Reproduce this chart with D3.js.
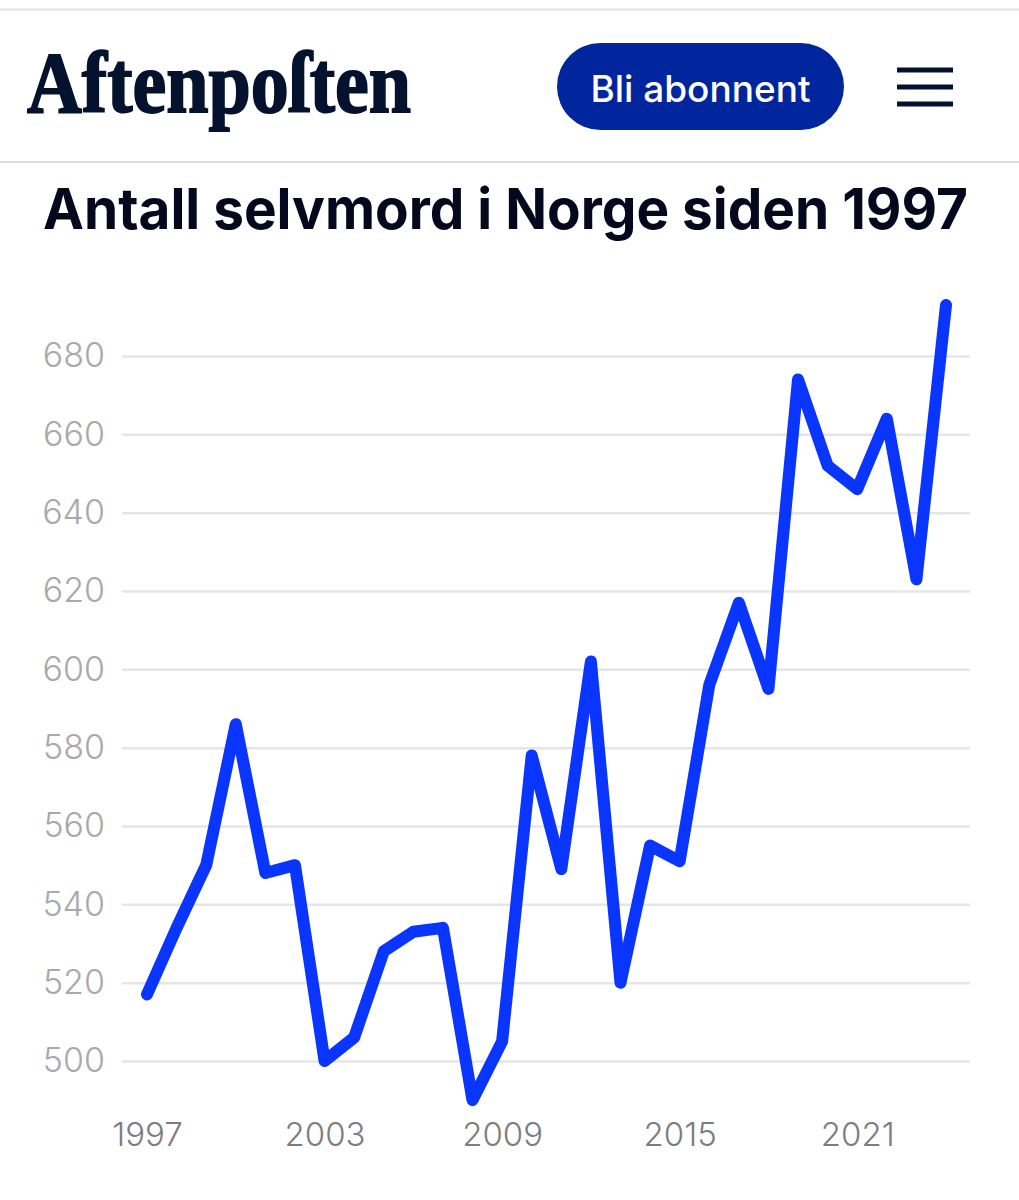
<!DOCTYPE html>
<html>
<head>
<meta charset="utf-8">
<style>
html,body{margin:0;padding:0;background:#fff;}
svg{display:block;}
.grid line{stroke:#e6e6e8;stroke-width:2.5;}
.grid path,.xaxis path,.xaxis line{display:none;}
.grid text{font:300 34px Inter,sans-serif;fill:#a9a9ad;}
.xaxis text{font:300 33px Inter,sans-serif;fill:#7d7d80;}
</style>
<script src="https://cdnjs.cloudflare.com/ajax/libs/d3/7.8.5/d3.min.js"></script>
</head>
<body>
<div id="chart"></div>
<script>
var title = "Antall selvmord i Norge siden 1997";
var years = [1997,1998,1999,2000,2001,2002,2003,2004,2005,2006,2007,2008,2009,2010,2011,2012,2013,2014,2015,2016,2017,2018,2019,2020,2021,2022,2023,2024];
var suicides = [517,534,550,586,548,550,500,506,528,533,534,490,505,578,549,602,520,555,551,596,617,595,674,652,646,664,623,693];
var yTicks = [500,520,540,560,580,600,620,640,660,680];
var xTicks = [1997,2003,2009,2015,2021];

var width = 1019, height = 1200;

var svg = d3.select("#chart").append("svg")
	.attr("width",width)
	.attr("height",height);

// page header
svg.append("line").attr("x1",0).attr("x2",width).attr("y1",9.5).attr("y2",9.5)
	.attr("stroke","#e2e2e2").attr("stroke-width",2);
svg.append("line").attr("x1",0).attr("x2",width).attr("y1",162).attr("y2",162)
	.attr("stroke","#dcdcdc").attr("stroke-width",2);

// no blackletter font here, a heavy stretched serif has to do
svg.append("text")
	.attr("transform","translate(27,112) scale(1,1.25)")
	.attr("textLength",384)
	.attr("lengthAdjust","spacingAndGlyphs")
	.style("font","700 70px 'Liberation Serif',serif")
	.style("fill","#04122e")
	.style("stroke","#04122e")
	.style("stroke-width",1.5)
	.text("Aftenpoſten");

svg.append("rect")
	.attr("x",557).attr("y",43).attr("width",287).attr("height",87)
	.attr("rx",43.5)
	.attr("fill","#00259d");
svg.append("text")
	.attr("x",700.5).attr("y",102)
	.attr("text-anchor","middle")
	.style("font","500 37px Inter,sans-serif")
	.style("fill","#fff")
	.text("Bli abonnent");

svg.selectAll(".burger").data([70,87,104]).enter().append("rect")
	.attr("class","burger")
	.attr("x",897).attr("width",56).attr("height",5)
	.attr("y",function(d){ return d-2.5; })
	.attr("fill","#04122e");

svg.append("text")
	.attr("x",43).attr("y",229)
	.attr("textLength",925)
	.attr("lengthAdjust","spacingAndGlyphs")
	.style("font","700 56px Inter,sans-serif")
	.style("fill","#04081c")
	.text(title);

// chart
var x = d3.scaleLinear().domain([1997,2024]).range([147,946]);
var y = d3.scaleLinear().domain([500,680]).range([1061,356]);

var gridAxis = d3.axisLeft(y).tickValues(yTicks).tickSize(-848).tickPadding(17).tickFormat(d3.format("d"));
svg.append("g")
	.attr("class","grid")
	.attr("transform","translate(122,0)")
	.call(gridAxis);

var xAxis = d3.axisBottom(x).tickValues(xTicks).tickSize(0).tickPadding(0).tickFormat(d3.format("d"));
svg.append("g")
	.attr("class","xaxis")
	.attr("transform","translate(0,1123)")
	.call(xAxis);

var line = d3.line()
	.x(function(d,i){ return x(years[i]); })
	.y(function(d){ return y(d); });

svg.append("path")
	.datum(suicides)
	.attr("d",line)
	.attr("fill","none")
	.attr("stroke","#0a35ff")
	.attr("stroke-width",12)
	.attr("stroke-linejoin","round")
	.attr("stroke-linecap","round");
</script>
</body>
</html>
